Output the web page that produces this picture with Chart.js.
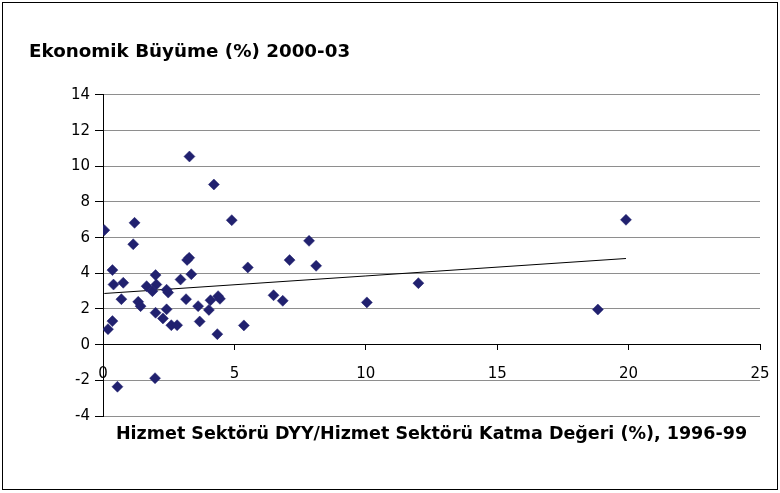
<!DOCTYPE html>
<html>
<head>
<meta charset="utf-8">
<script src="https://cdn.jsdelivr.net/npm/chart.js@4/dist/chart.umd.min.js"></script>
<style>
  body { margin: 0; background: #fff; }
  #wrap { width: 780px; height: 493px; }
</style>
</head>
<body>
<div id="wrap"><canvas id="chart"></canvas></div>
<script>
// değerler
const xValues = [0.05, 1.2, 1.15, 4.9, 0.36, 0.4, 0.77, 0.7, 1.34, 1.43,
  1.66, 1.88, 2.0, 2.03, 2.42, 2.48, 2.0, 2.28, 2.42, 2.6,
  2.82, 2.95, 3.16, 3.2, 3.28, 3.36, 3.62, 3.68, 4.03, 4.09,
  4.38, 4.45, 4.35, 5.36, 5.51, 6.49, 6.84, 7.1, 7.84, 8.11,
  10.04, 12.0, 19.9, 18.83, 0.19, 0.36, 0.55, 1.98, 3.29, 4.22];
const yValues = [6.42, 6.83, 5.63, 6.98, 4.18, 3.37, 3.47, 2.55, 2.4, 2.16,
  3.28, 3.0, 3.9, 3.37, 3.08, 2.92, 1.79, 1.47, 1.98, 1.09,
  1.09, 3.65, 2.55, 4.75, 4.87, 3.95, 2.16, 1.3, 1.95, 2.49,
  2.72, 2.57, 0.59, 1.08, 4.33, 2.77, 2.46, 4.74, 5.82, 4.42,
  2.37, 3.45, 7.0, 1.97, 0.87, 1.32, -2.36, -1.88, 10.55, 8.98];
// trend çizgisi uç noktaları
const trendX = [0.05, 19.9];
const trendY = [2.87, 4.83];

const yTicks = { min: -4, max: 14, step: 2 };
const xTicks = { min: 0, max: 25, step: 5 };

const yTitle = 'Ekonomik Büyüme (%) 2000-03';
const xTitle = 'Hizmet Sektörü DYY/Hizmet Sektörü Katma Değeri (%), 1996-99';

const FONT = "'DejaVu Sans', 'Liberation Sans', Arial, sans-serif";

const points = xValues.map((x, i) => ({ x: x, y: yValues[i] }));
const trend = trendX.map((x, i) => ({ x: x, y: trendY[i] }));

// çerçeve ve beyaz zemin
const frame = {
  id: 'frame',
  beforeDraw(chart) {
    const c = chart.ctx;
    c.save();
    c.fillStyle = '#fff';
    c.fillRect(0, 0, chart.width, chart.height);
    c.strokeStyle = '#000';
    c.lineWidth = 1;
    c.strokeRect(2.5, 2.5, 775, 487);
    c.restore();
  }
};

new Chart(document.getElementById('chart'), {
  type: 'scatter',
  data: {
    datasets: [
      {
        data: points,
        pointStyle: 'rectRot',
        pointRadius: 5.5,
        pointHoverRadius: 5.5,
        backgroundColor: '#21216f',
        borderColor: '#21216f',
        borderWidth: 0.5
      },
      {
        data: trend,
        showLine: true,
        borderColor: '#000',
        borderWidth: 1,
        pointRadius: 0
      }
    ]
  },
  options: {
    responsive: true,
    maintainAspectRatio: false,
    animation: false,
    layout: { padding: { left: 29, right: 20, top: 0, bottom: 40 } },
    plugins: {
      legend: { display: false },
      tooltip: { enabled: false },
      title: {
        display: true,
        text: yTitle,
        align: 'start',
        color: '#000',
        font: { family: FONT, size: 18.3, weight: 'bold' },
        padding: { top: 41, bottom: 32 }
      },
      subtitle: {
        display: true,
        text: xTitle,
        position: 'bottom',
        fullSize: false,
        color: '#000',
        font: { family: FONT, size: 17.5, weight: 'bold' },
        padding: { top: 8, bottom: 8 }
      }
    },
    scales: {
      x: {
        type: 'linear',
        position: { y: 0 },
        min: xTicks.min,
        max: xTicks.max,
        afterFit: s => { s.paddingRight = 20; s.paddingLeft = 0; },
        ticks: {
          stepSize: xTicks.step,
          color: '#000',
          padding: 15,
          font: { family: FONT, size: 15 }
        },
        grid: { drawOnChartArea: false, tickLength: 5, tickColor: '#000' },
        border: { color: '#000', width: 1 }
      },
      y: {
        min: yTicks.min,
        max: yTicks.max,
        afterFit: s => { s.width = 74; },
        ticks: {
          stepSize: yTicks.step,
          color: '#000',
          padding: 5,
          font: { family: FONT, size: 15 }
        },
        grid: { color: '#8e8e8e', tickLength: 8, tickColor: '#000' },
        border: { color: '#000', width: 1 }
      }
    }
  },
  plugins: [frame]
});
</script>
</body>
</html>
